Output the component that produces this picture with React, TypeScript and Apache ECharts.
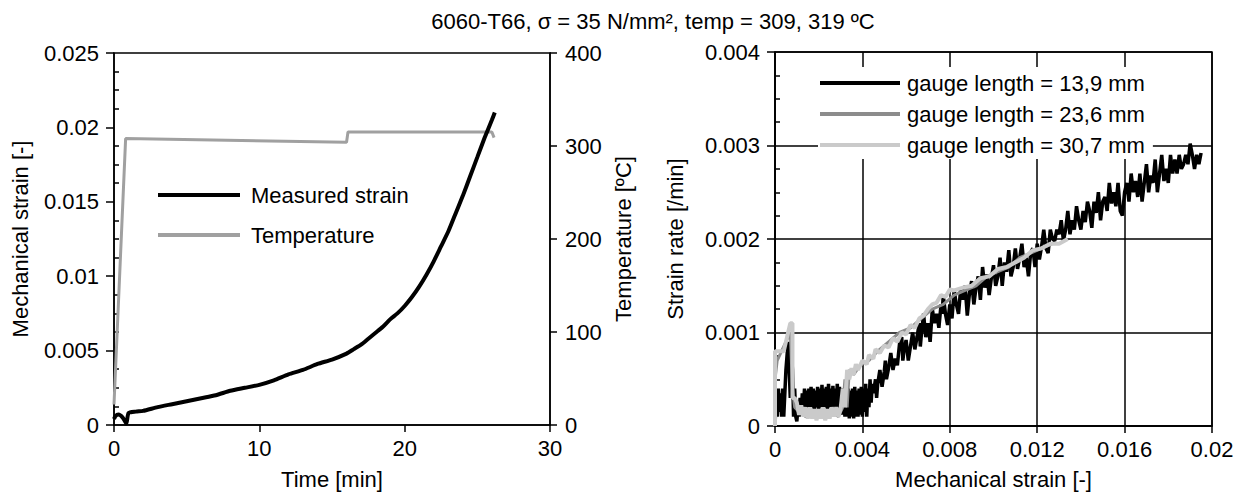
import React, { useEffect, useRef } from "react";
import * as echarts from "echarts";

const TITLE = "6060-T66, σ = 35 N/mm², temp = 309, 319 ºC";
const FONT = "'Liberation Sans', Arial, Helvetica, sans-serif";

// Left panel: measured strain vs time
const timeMin = [0, 0.1, 0.3, 0.6, 0.85, 1.0, 1.5, 2, 3, 4, 5, 6, 7, 8, 9, 10, 11, 12, 13, 14, 15, 16, 16.5, 17, 17.5, 18, 18.5, 19, 19.5, 20, 20.5, 21, 21.5, 22, 22.5, 23, 23.5, 24, 24.5, 25, 25.5, 26, 26.2];
const measuredStrain = [0.0004, 0.0006, 0.0007, 0.0005, 0.0001, 0.0008, 0.0009, 0.00095, 0.0012, 0.0014, 0.0016, 0.0018, 0.002, 0.0023, 0.0025, 0.0027, 0.003, 0.0034, 0.0037, 0.0041, 0.0044, 0.0048, 0.0051, 0.0054, 0.0058, 0.0062, 0.0066, 0.0071, 0.0075, 0.008, 0.0086, 0.0093, 0.0101, 0.011, 0.012, 0.013, 0.0142, 0.0154, 0.0167, 0.018, 0.0193, 0.0205, 0.021];

// Left panel: temperature vs time
const tempTime = [0, 0.8, 16.0, 16.1, 26.0, 26.15];
const temperature = [22, 308, 304, 315, 315, 309];

// Right panel: strain rate vs mechanical strain
const gauge139: [number, number][] = [
  [0, 0], [0.00005, 0.0003], [0.0001, 0.0001], [0.00015, 0.0004], [0.0002, 0.00015], [0.00025, 0.00035], [0.0003, 0.0001], [0.00035, 0.0004], [0.0004, 0.0001], [0.0005, 0.0006], [0.0006, 0.0009], [0.0007, 0.0003], [0.00075, 0.0008], [0.0008, 0.0006], [0.00085, 0.0001], [0.0009, 0.0004], [0.00095, 0.0001],
  [0.001, 0.00005], [0.00105, 0.0002], [0.0011, 0.0001], [0.00115, 0.0003], [0.0012, 0.00015], [0.00125, 0.00035], [0.0013, 0.0002], [0.00135, 0.0004], [0.0014, 0.00015], [0.00145, 0.00038], [0.0015, 0.0002], [0.00155, 0.0004], [0.0016, 0.00018], [0.00165, 0.00042], [0.0017, 0.0002], [0.00175, 0.0004],
  [0.0018, 0.00015], [0.00185, 0.00038], [0.0019, 0.0002], [0.00195, 0.00042], [0.002, 0.00018], [0.00205, 0.0004], [0.0021, 0.0002], [0.00215, 0.00044], [0.0022, 0.00018], [0.00225, 0.0004], [0.0023, 0.0002], [0.00235, 0.00042], [0.0024, 0.00018], [0.00245, 0.00045], [0.0025, 0.0002], [0.00255, 0.0004],
  [0.0026, 0.00018], [0.00265, 0.00043], [0.0027, 0.0002], [0.00275, 0.0004], [0.0028, 0.00015], [0.00285, 0.00045], [0.0029, 0.0002], [0.00295, 0.00042], [0.003, 0.00015], [0.00305, 0.0004], [0.0031, 0.00012], [0.00315, 0.0004], [0.0032, 0.0001], [0.00325, 0.00038], [0.0033, 0.0001], [0.00335, 0.0004],
  [0.0034, 0.00008], [0.00345, 0.00038], [0.0035, 0.0001], [0.00355, 0.0004], [0.0036, 0.00008], [0.00365, 0.00042], [0.0037, 0.0001], [0.00375, 0.00038], [0.0038, 0.0001], [0.00385, 0.0004], [0.0039, 0.00012], [0.00395, 0.00042], [0.004, 0.0001], [0.00405, 0.0004], [0.0041, 0.00015], [0.00415, 0.00045],
  [0.0042, 0.0001], [0.00425, 0.0004], [0.0043, 0.0002], [0.00435, 0.0005], [0.0044, 0.00025], [0.00445, 0.00045], [0.0045, 0.00035], [0.0046, 0.0005], [0.00465, 0.0003], [0.0047, 0.00045], [0.0048, 0.0006], [0.0049, 0.00042], [0.005, 0.00058], [0.00505, 0.0007], [0.0051, 0.0005], [0.0052, 0.00062],
  [0.0053, 0.00078], [0.0054, 0.0006], [0.0055, 0.00072], [0.0056, 0.00065], [0.0057, 0.00088], [0.0058, 0.00095], [0.00585, 0.0007], [0.0059, 0.0008], [0.006, 0.00092], [0.0061, 0.0007], [0.0062, 0.00085], [0.0063, 0.001], [0.0064, 0.00082], [0.0065, 0.00095], [0.0066, 0.0011], [0.00665, 0.00085],
  [0.0067, 0.00098], [0.0068, 0.0012], [0.0069, 0.00095], [0.007, 0.0011], [0.0071, 0.0009], [0.0072, 0.00125], [0.0073, 0.0011], [0.0074, 0.0012], [0.0075, 0.00105], [0.0076, 0.0013], [0.00765, 0.0012], [0.0077, 0.0014], [0.0078, 0.0012], [0.0079, 0.00108], [0.008, 0.0013], [0.0081, 0.00115],
  [0.0082, 0.00145], [0.0083, 0.0013], [0.0084, 0.0012], [0.0085, 0.00148], [0.0086, 0.00135], [0.0087, 0.0015], [0.0088, 0.00118], [0.0089, 0.00142], [0.009, 0.00155], [0.0091, 0.0013], [0.0092, 0.00148], [0.0093, 0.0016], [0.0094, 0.00135], [0.0095, 0.0017], [0.0096, 0.00148], [0.0097, 0.00162],
  [0.0098, 0.0014], [0.0099, 0.00158], [0.01, 0.00172], [0.0101, 0.0015], [0.0102, 0.0016], [0.0103, 0.0018], [0.0104, 0.0015], [0.0105, 0.00175], [0.0106, 0.00165], [0.0107, 0.00188], [0.0108, 0.0016], [0.0109, 0.0017], [0.011, 0.0019], [0.0111, 0.00168], [0.0112, 0.0018], [0.0113, 0.00195],
  [0.0114, 0.0017], [0.0115, 0.0018], [0.0116, 0.0016], [0.0117, 0.00185], [0.0118, 0.0019], [0.0119, 0.0017], [0.012, 0.00195], [0.0121, 0.00178], [0.0122, 0.00192], [0.0123, 0.0021], [0.0124, 0.0019], [0.0125, 0.00185], [0.0126, 0.0021], [0.0127, 0.002], [0.0128, 0.00198], [0.0129, 0.0021],
  [0.013, 0.00205], [0.0131, 0.0022], [0.0132, 0.00198], [0.0133, 0.0021], [0.0134, 0.0023], [0.0135, 0.00205], [0.0136, 0.0022], [0.0137, 0.0021], [0.0138, 0.00235], [0.0139, 0.0022], [0.014, 0.0021], [0.0141, 0.0023], [0.0142, 0.00218], [0.0143, 0.0024], [0.0144, 0.0023], [0.0145, 0.00212],
  [0.0146, 0.0024], [0.0147, 0.00228], [0.0148, 0.0025], [0.0149, 0.0022], [0.015, 0.0024], [0.0151, 0.00245], [0.0152, 0.0023], [0.0153, 0.0026], [0.0154, 0.00238], [0.0155, 0.0025], [0.0156, 0.00235], [0.0157, 0.0026], [0.0158, 0.0023], [0.0159, 0.00225], [0.016, 0.0025], [0.0161, 0.0026],
  [0.0162, 0.0024], [0.0163, 0.0027], [0.0164, 0.0025], [0.0165, 0.00262], [0.0166, 0.00245], [0.0167, 0.0027], [0.0168, 0.0024], [0.0169, 0.0026], [0.017, 0.0028], [0.0171, 0.0025], [0.0172, 0.00268], [0.0173, 0.0026], [0.0174, 0.00285], [0.0175, 0.0025], [0.0176, 0.0027], [0.0177, 0.0029],
  [0.0178, 0.00262], [0.0179, 0.00275], [0.018, 0.0026], [0.0181, 0.0029], [0.0182, 0.0027], [0.0183, 0.00285], [0.0184, 0.0027], [0.0185, 0.0029], [0.0186, 0.00275], [0.0187, 0.0028], [0.0188, 0.0029], [0.0189, 0.0028], [0.019, 0.00302], [0.0191, 0.0029], [0.0192, 0.00275], [0.0193, 0.0029],
  [0.0194, 0.0028], [0.0195, 0.00292],
];

const gauge236: [number, number][] = [
  [0, 0], [0, 0.0005], [0.0001, 0.0007], [0.0003, 0.0008], [0.0005, 0.0009], [0.0007, 0.001], [0.0008, 0.0004], [0.0009, 0.0002], [0.0011, 0.00015], [0.0014, 0.0001], [0.0017, 0.00012], [0.002, 0.0001], [0.0023, 0.00012], [0.0026, 0.00015], [0.0029, 0.0001], [0.0031, 0.0002], [0.0032, 0.0005], [0.0033, 0.0002], [0.0034, 0.0006],
  [0.0036, 0.00055], [0.0039, 0.00065], [0.0043, 0.0007], [0.0047, 0.0008], [0.0052, 0.0009], [0.0057, 0.001], [0.0062, 0.00105], [0.0067, 0.00115], [0.0072, 0.00125], [0.0077, 0.0013], [0.0082, 0.0014], [0.0087, 0.00145], [0.0092, 0.0015], [0.0097, 0.0016], [0.0102, 0.00165], [0.0107, 0.0017], [0.0112, 0.0018], [0.0117, 0.00185], [0.0122, 0.0019], [0.0127, 0.00195],
];

const gauge307: [number, number][] = [
  [0, 0], [0, 0.0008], [0.0002, 0.0008], [0.0004, 0.0008], [0.0005, 0.0009], [0.0006, 0.001], [0.0007, 0.0011], [0.0008, 0.0011], [0.0008, 0.0003], [0.0009, 0.0003], [0.001, 0.00025], [0.0011, 0.00012], [0.0012, 0.00022], [0.0013, 0.0001], [0.0014, 0.0002], [0.0015, 0.00008], [0.0016, 0.0002], [0.0017, 0.00008],
  [0.0018, 0.00018], [0.0019, 0.00006], [0.002, 0.00018], [0.0021, 0.00008], [0.0022, 0.0002], [0.0023, 0.00006], [0.0024, 0.00018], [0.0025, 0.00008], [0.0026, 0.0002], [0.0027, 0.0001], [0.0028, 0.0002], [0.0029, 0.0001], [0.003, 0.00018],
  [0.0031, 0.0004], [0.0032, 0.0002], [0.0033, 0.0006], [0.0034, 0.0005], [0.0035, 0.00062], [0.0036, 0.00055], [0.0037, 0.00066], [0.0038, 0.0006], [0.004, 0.0007], [0.0042, 0.00066], [0.0043, 0.00076], [0.0045, 0.00072], [0.0046, 0.00082], [0.0048, 0.00078], [0.005, 0.00086], [0.0052, 0.00084], [0.0054, 0.00094], [0.0056, 0.0009],
  [0.0058, 0.001], [0.006, 0.00098], [0.0062, 0.00108], [0.0064, 0.00105], [0.0066, 0.00115], [0.0068, 0.00118], [0.007, 0.00125], [0.0072, 0.0013], [0.0074, 0.00132], [0.0076, 0.0014], [0.0078, 0.00138], [0.008, 0.00146], [0.0082, 0.00145],
  [0.0086, 0.00148], [0.009, 0.0015], [0.0094, 0.00158], [0.0098, 0.0016], [0.0102, 0.00168], [0.0106, 0.0017], [0.011, 0.00175], [0.0114, 0.0018], [0.0118, 0.00188], [0.0122, 0.0019], [0.0126, 0.00195], [0.013, 0.00195], [0.0134, 0.002],
];

const strainTicks = { min: 0, max: 0.025, interval: 0.005 };
const tempTicks = { min: 0, max: 400, interval: 100 };
const timeTicks = { min: 0, max: 30, interval: 10 };
const rateTicks = { min: 0, max: 0.004, interval: 0.001 };
const mechTicks = { min: 0, max: 0.02, interval: 0.004 };

export default function App() {
  const ref = useRef<HTMLDivElement>(null);
  useEffect(() => {
    if (!ref.current) return;
    const chart = echarts.init(ref.current, undefined, { renderer: "svg" });
    const axisLine = { show: true, onZero: false, lineStyle: { color: "#000", width: 1.5 } };
    const label = { color: "#000", fontSize: 22, fontFamily: FONT };
    const nameStyle = { color: "#000", fontSize: 22, fontFamily: FONT };
    const minorOverlay = (gridIndex: number, t: any) => ({
      type: "value", gridIndex, position: "left", ...t,
      axisLine: { show: false }, axisLabel: { show: false }, splitLine: { show: false },
      axisTick: { show: false, inside: true },
      minorTick: { show: true, splitNumber: 4, length: 5, lineStyle: { color: "#000", width: 1.5 } },
    });
    chart.setOption({
      animation: false,
      backgroundColor: "#fff",
      title: {
        text: TITLE, left: 648, top: 5, textAlign: "center",
        textStyle: { color: "#000", fontSize: 22, fontWeight: "normal", fontFamily: FONT },
      },
      grid: [
        { left: 114, top: 53, width: 436, height: 374, show: true, borderColor: "#000", borderWidth: 1.5 },
        { left: 775, top: 52, width: 437, height: 377, show: true, borderColor: "#000", borderWidth: 1.5 },
      ],
      xAxis: [
        {
          type: "value", gridIndex: 0, ...timeTicks, name: "Time [min]", nameLocation: "middle", nameGap: 43,
          nameTextStyle: nameStyle, axisLine, axisTick: { show: true, length: 7, lineStyle: { color: "#000", width: 1.5 } },
          axisLabel: { ...label, margin: 12 }, splitLine: { show: false },
        },
        {
          type: "value", gridIndex: 1, ...mechTicks, name: "Mechanical strain [-]", nameLocation: "middle", nameGap: 42,
          nameTextStyle: nameStyle, axisLine, axisTick: { show: true, length: 7, lineStyle: { color: "#000", width: 1.5 } },
          axisLabel: { ...label, margin: 12 }, splitLine: { show: true, lineStyle: { color: "#000", width: 1.5 } },
        },
      ],
      yAxis: [
        {
          type: "value", gridIndex: 0, position: "left", ...strainTicks, name: "Mechanical strain [-]", nameLocation: "middle",
          nameGap: 83, nameTextStyle: nameStyle, axisLine, axisTick: { show: true, length: 8, lineStyle: { color: "#000", width: 1.5 } },
          axisLabel: { ...label, margin: 15 }, splitLine: { show: false },
        },
        {
          type: "value", gridIndex: 0, position: "right", ...tempTicks, name: "Temperature [ºC]", nameLocation: "middle",
          nameGap: 62, nameTextStyle: nameStyle, axisLine, axisTick: { show: true, length: 7, lineStyle: { color: "#000", width: 1.5 } },
          axisLabel: { ...label, margin: 15 }, splitLine: { show: false },
        },
        minorOverlay(0, strainTicks),
        {
          type: "value", gridIndex: 1, position: "left", ...rateTicks, name: "Strain rate [/min]", nameLocation: "middle",
          nameGap: 89, nameTextStyle: nameStyle, axisLine, axisTick: { show: true, length: 8, lineStyle: { color: "#000", width: 1.5 } },
          axisLabel: { ...label, margin: 15 }, splitLine: { show: true, lineStyle: { color: "#000", width: 1.5 } },
        },
        minorOverlay(1, rateTicks),
      ],
      legend: [
        {
          data: ["Measured strain", "Temperature"], orient: "vertical", left: 158, top: 183,
          icon: "rect", itemWidth: 82, itemHeight: 4, itemGap: 16, padding: 0,
          textStyle: { color: "#000", fontSize: 22, fontFamily: FONT, lineHeight: 24, padding: [0, 0, 0, 6] },
        },
        {
          data: ["gauge length = 13,9 mm", "gauge length = 23,6 mm", "gauge length = 30,7 mm"], orient: "vertical",
          left: 818, top: 67, icon: "rect", itemWidth: 80, itemHeight: 4, itemGap: 7, padding: [4, 8, 2, 2],
          backgroundColor: "#fff",
          textStyle: { color: "#000", fontSize: 22, fontFamily: FONT, lineHeight: 24, padding: [0, 0, 0, 2] },
        },
      ],
      series: [
        {
          name: "Temperature", type: "line", xAxisIndex: 0, yAxisIndex: 1, showSymbol: false,
          data: tempTime.map((t, i) => [t, temperature[i]]), lineStyle: { color: "#a0a0a0", width: 3 }, itemStyle: { color: "#a0a0a0" },
        },
        {
          name: "Measured strain", type: "line", xAxisIndex: 0, yAxisIndex: 0, showSymbol: false, smooth: 0.2,
          data: timeMin.map((t, i) => [t, measuredStrain[i]]), lineStyle: { color: "#000", width: 4 }, itemStyle: { color: "#000" },
        },
        {
          name: "gauge length = 13,9 mm", type: "line", xAxisIndex: 1, yAxisIndex: 3, showSymbol: false,
          data: gauge139, lineStyle: { color: "#000", width: 3.5 }, itemStyle: { color: "#000" },
        },
        {
          name: "gauge length = 23,6 mm", type: "line", xAxisIndex: 1, yAxisIndex: 3, showSymbol: false,
          data: gauge236, lineStyle: { color: "#8c8c8c", width: 3 }, itemStyle: { color: "#8c8c8c" },
        },
        {
          name: "gauge length = 30,7 mm", type: "line", xAxisIndex: 1, yAxisIndex: 3, showSymbol: false,
          data: gauge307, lineStyle: { color: "#cacaca", width: 4 }, itemStyle: { color: "#cacaca" },
        },
      ],
    });
    return () => chart.dispose();
  }, []);
  return <div ref={ref} style={{ width: 1249, height: 495, position: "absolute", left: 0, top: 0 }} />;
}
